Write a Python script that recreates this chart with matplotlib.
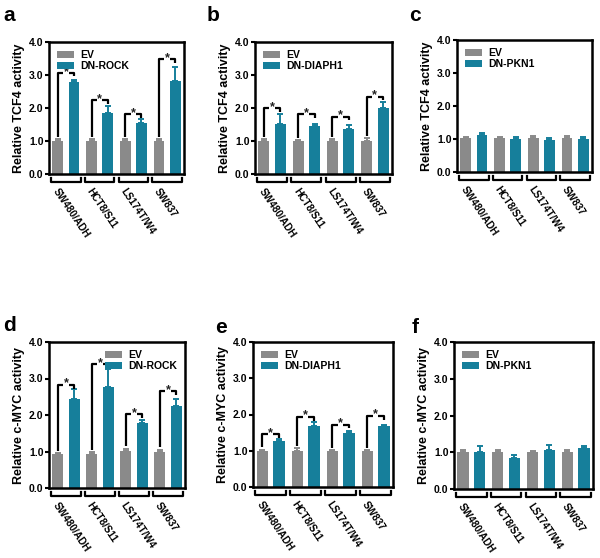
import numpy as np
import matplotlib
matplotlib.use("Agg")
import matplotlib.pyplot as plt
from matplotlib.transforms import blended_transform_factory

plt.rcParams["font.family"] = ["Liberation Sans", "DejaVu Sans"]

GRAY = "#8a8a8a"
TEAL = "#167f9b"
FIG_W, FIG_H = 600, 558

cell_lines = ["SW480/ADH", "HCT8/S11", "LS174T/W4", "SW837"]

# a: TCF4 reporter, DN-ROCK
a_ev = [1.0, 1.0, 1.0, 1.0]
a_ev_err = [0.05, 0.06, 0.05, 0.07]
a_dn = [2.78, 1.85, 1.55, 2.83]
a_dn_err = [0.07, 0.20, 0.12, 0.42]
a_sig = [3.06, 2.23, 1.81, 3.47]

# b: TCF4 reporter, DN-DIAPH1
b_ev = [1.0, 1.0, 1.0, 1.0]
b_ev_err = [0.05, 0.04, 0.07, 0.08]
b_dn = [1.52, 1.45, 1.37, 1.99]
b_dn_err = [0.30, 0.07, 0.10, 0.20]
b_sig = [1.99, 1.81, 1.74, 2.34]

# c: TCF4 reporter, DN-PKN1
c_ev = [1.02, 1.02, 1.02, 1.02]
c_ev_err = [0.04, 0.04, 0.06, 0.06]
c_dn = [1.13, 1.00, 0.97, 0.99]
c_dn_err = [0.04, 0.06, 0.07, 0.07]

# d: c-MYC reporter, DN-ROCK
d_ev = [0.92, 0.94, 1.02, 0.98]
d_ev_err = [0.04, 0.05, 0.06, 0.07]
d_dn = [2.45, 2.77, 1.77, 2.24]
d_dn_err = [0.27, 0.48, 0.10, 0.20]
d_sig = [2.82, 3.39, 2.02, 2.65]

# e: c-MYC reporter, DN-DIAPH1
e_ev = [1.0, 1.0, 1.0, 1.0]
e_ev_err = [0.03, 0.08, 0.02, 0.02]
e_dn = [1.27, 1.67, 1.48, 1.67]
e_dn_err = [0.05, 0.12, 0.07, 0.05]
e_sig = [1.45, 1.93, 1.72, 1.96]

# f: c-MYC reporter, DN-PKN1
f_ev = [1.0, 1.0, 1.0, 1.0]
f_ev_err = [0.05, 0.07, 0.04, 0.05]
f_dn = [1.02, 0.85, 1.07, 1.12]
f_dn_err = [0.15, 0.08, 0.12, 0.06]


def panel(fig, box, letter, letter_xy, ev, ev_err, dn, dn_err, sig, dn_name,
          ylabel, leg_loc="upper left"):
    l, r, t, b = box
    ax = fig.add_axes([l / FIG_W, 1 - b / FIG_H, (r - l) / FIG_W, (b - t) / FIG_H])
    h_px = b - t
    x = np.arange(len(cell_lines))
    off, w = 0.24, 0.32
    ax.bar(x - off, ev, w, color=GRAY, label="EV", zorder=2)
    ax.bar(x + off, dn, w, color=TEAL, label=dn_name, zorder=2)
    ax.errorbar(x - off, ev, yerr=[np.zeros(4), ev_err], fmt="none", ecolor=GRAY,
                elinewidth=1.4, capsize=2.5, capthick=1.4, zorder=1)
    ax.errorbar(x + off, dn, yerr=[np.zeros(4), dn_err], fmt="none", ecolor=TEAL,
                elinewidth=1.4, capsize=2.5, capthick=1.4, zorder=1)

    if sig is not None:
        for i, lvl in enumerate(sig):
            x0, x1 = x[i] - off, x[i] + off
            y0 = ev[i] + ev_err[i] + 0.06
            gap = 0.08
            ax.plot([x0, x0, x[i] - gap], [y0, lvl, lvl], color="k", lw=1.6,
                    solid_capstyle="butt", zorder=3)
            ax.plot([x[i] + gap, x1, x1], [lvl, lvl, lvl - 0.1], color="k", lw=1.6,
                    solid_capstyle="butt", zorder=3)
            ax.text(x[i], lvl + 0.04, "*", ha="center", va="center", fontsize=9,
                    fontweight="bold", color="#222222")

    ax.set_xlim(-0.5, 3.5)
    ax.set_ylim(0, 4.0)
    ax.set_xticks([])
    ax.set_yticks([0, 1, 2, 3, 4])
    ax.set_yticklabels([f"{v:.1f}" for v in [0, 1, 2, 3, 4]], fontsize=7.5,
                       fontweight="bold")
    ax.tick_params(axis="y", length=3, width=1.5, pad=1)
    for s in ax.spines.values():
        s.set_linewidth(1.8)
    ax.set_ylabel(ylabel, fontsize=9, fontweight="bold", labelpad=3)

    trans = blended_transform_factory(ax.transData, ax.transAxes)
    yb = -8 / h_px
    ye = -4 / h_px
    for xi, name in zip(x, cell_lines):
        ax.plot([xi - 0.44, xi - 0.44, xi + 0.44, xi + 0.44], [ye, yb, yb, ye],
                transform=trans, clip_on=False, color="k", lw=1.6)
        ax.text(xi - 0.2, -13 / h_px, name, transform=trans, rotation=-56,
                rotation_mode="anchor", ha="left", va="top", fontsize=7.2,
                fontweight="bold")

    ax.legend(loc=leg_loc, frameon=False, prop={"size": 7.5, "weight": "bold"},
              handlelength=1.6, handleheight=0.6, labelspacing=0.1,
              borderaxespad=0.4, handletextpad=0.6)
    fig.text(letter_xy[0] / FIG_W, 1 - letter_xy[1] / FIG_H, letter, fontsize=15,
             fontweight="bold", ha="left", va="top")
    return ax


def main():
    fig = plt.figure(figsize=(6, 5.58), dpi=100)
    panel(fig, (49, 184, 42, 174), "a", (3, 6), a_ev, a_ev_err, a_dn, a_dn_err, a_sig,
          "DN-ROCK", "Relative TCF4 activity")
    panel(fig, (255, 392, 42, 174), "b", (207, 6), b_ev, b_ev_err, b_dn, b_dn_err, b_sig,
          "DN-DIAPH1", "Relative TCF4 activity")
    panel(fig, (457, 592, 40, 172), "c", (409, 6), c_ev, c_ev_err, c_dn, c_dn_err, None,
          "DN-PKN1", "Relative TCF4 activity")
    panel(fig, (49, 185, 342, 488), "d", (3, 316), d_ev, d_ev_err, d_dn, d_dn_err, d_sig,
          "DN-ROCK", "Relative c-MYC activity", leg_loc="upper right")
    panel(fig, (253, 393, 342, 487), "e", (215, 318), e_ev, e_ev_err, e_dn, e_dn_err, e_sig,
          "DN-DIAPH1", "Relative c-MYC activity")
    panel(fig, (454, 593, 342, 489), "f", (412, 318), f_ev, f_ev_err, f_dn, f_dn_err, None,
          "DN-PKN1", "Relative c-MYC activity")
    fig.savefig("out.png", dpi=100, facecolor="white")


if __name__ == "__main__":
    main()
